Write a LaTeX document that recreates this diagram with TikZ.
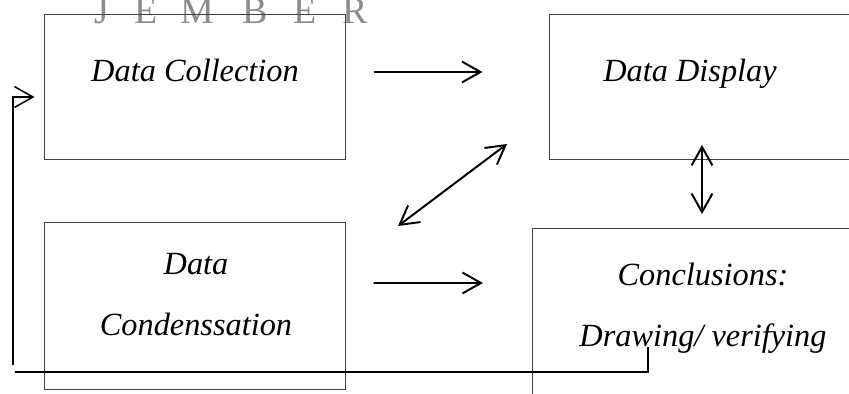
\documentclass[tikz,border=0pt]{standalone}
\usepackage{fontspec}
\setmainfont{Liberation Serif}
\usetikzlibrary{arrows.meta}

\begin{document}
\begin{tikzpicture}[x=0.025cm,y=-0.025cm,>={Straight Barb[length=4.6mm,width=5.2mm]}]
    \tikzstyle{box}=[draw=black!75, line width=0.7pt, rectangle, inner sep=0pt]
    \tikzstyle{txt}=[font=\fontsize{23}{43}\selectfont\itshape, align=center, inner sep=0pt, anchor=base]
    \tikzstyle{wm}=[text=black!45, font=\fontsize{27}{30}\selectfont, anchor=base, inner sep=0pt]
    \tikzstyle{arr}=[line width=1.4pt, black]

    \clip (0,0) rectangle (849,394);

    % watermark
    \foreach \x/\l [count=\i] in {102/J,146/E,197/M,255/B,305/E,355/R}
        \node[wm] (wm\i) at (\x,24) {\l};

    \node[box, minimum width=7.5cm, minimum height=3.6cm]   (DC) at (195,87)  {};
    \node[box, minimum width=8.25cm, minimum height=3.6cm]  (DD) at (715,87)  {};
    \node[box, minimum width=7.5cm, minimum height=4.15cm]  (CD) at (195,306) {};
    \node[box, minimum width=8.675cm, minimum height=4.8cm] (CC) at (706,325) {};

    % base of the multi-line texts is on their last line
    \node[txt] (DCt) at (195,81)  {Data Collection};
    \node[txt] (DDt) at (690,81)  {Data Display};
    \node[txt] (CDt) at (196,335) {Data\\Condenssation};
    \node[txt] (CCt) at (703,346) {Conclusions:\\Drawing/ verifying};

    \coordinate (d1) at (398,226);
    \coordinate (d2) at (507,144);
    \coordinate (v1) at (702,145);
    \coordinate (v2) at (702,214);
    \coordinate (fb) at (648,347);
    \coordinate (fb1) at (15,372);
    \coordinate (fb2) at (13,365);

    \path[arr]
     ([yshift=0.375cm]DC.east) edge[->, shorten <=0.7cm, shorten >=1.675cm] ([yshift=0.375cm]DD.west)
     ([yshift=0.575cm]CD.east) edge[->, shorten <=0.7cm, shorten >=1.225cm] ([yshift=1.05cm]CC.west)
     (d1) edge[<->] (d2)
     (v1) edge[<->] (v2);
    \draw[line width=1.1pt] (fb) |- (fb1);
    \draw[line width=1.1pt, ->, shorten >=0.25cm]
     (fb2) |- ([yshift=-0.25cm]DC.west);
\end{tikzpicture}
\end{document}
